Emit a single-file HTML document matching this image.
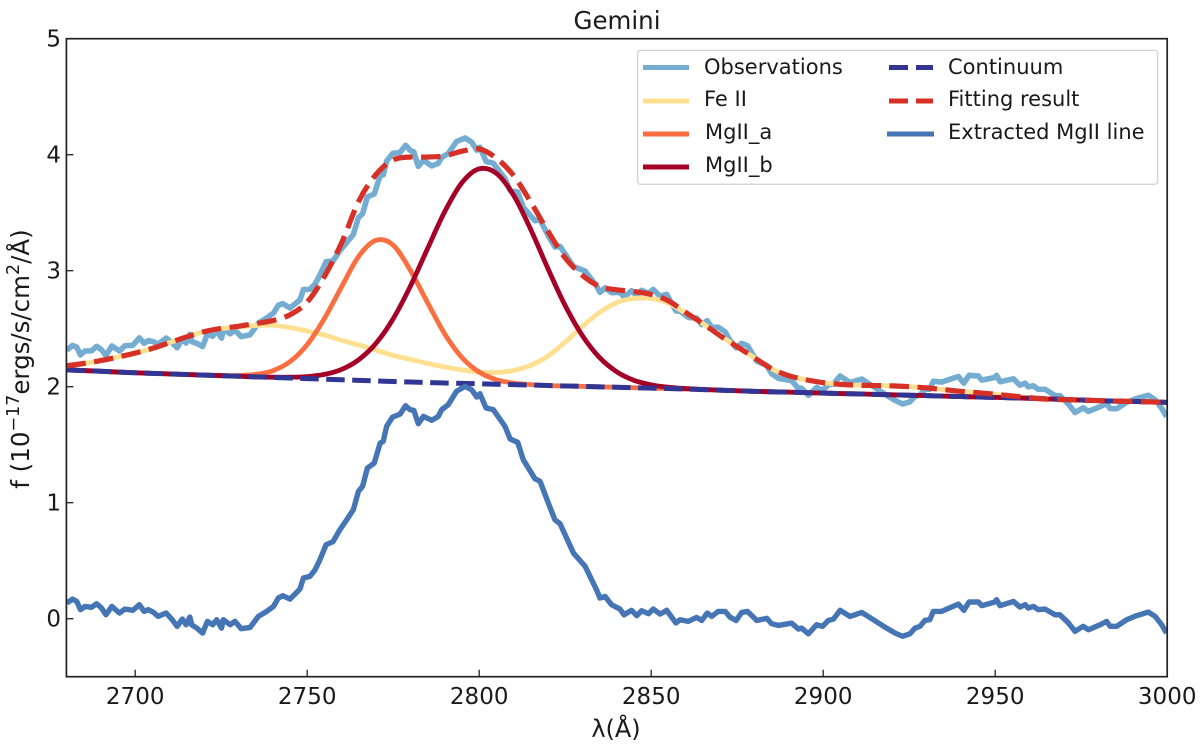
<!DOCTYPE html>
<html>
<head>
<meta charset="utf-8">
<title>Gemini</title>
<style>
html,body{margin:0;padding:0;background:#fff;}
svg{display:block;font-family:"DejaVu Sans","Liberation Sans",sans-serif;fill:#1a1a1a;}
</style>
</head>
<body>
<svg id="chart" width="1200" height="749" viewBox="0 0 1200 749" xmlns="http://www.w3.org/2000/svg">
  <defs><clipPath id="plot-clip"><rect x="66.4" y="38.7" width="1100.8" height="638"/></clipPath></defs>
  <rect x="0" y="0" width="1200" height="749" fill="#fff"/>
  <g id="series" clip-path="url(#plot-clip)"></g>
  <rect x="66.4" y="38.7" width="1100.8" height="638" fill="none" stroke="#222" stroke-width="1.7"/>
  <g id="ticks"></g>
  <text x="617" y="29" font-size="24.5" text-anchor="middle">Gemini</text>
  <text x="616" y="737" font-size="24" text-anchor="middle">λ(Å)</text>
  <text transform="translate(29,359) rotate(-90)" font-size="24.5" text-anchor="middle">f (10<tspan font-size="17.5" dy="-10">−17</tspan><tspan dy="10">ergs/s/cm</tspan><tspan font-size="17.5" dy="-10">2</tspan><tspan dy="10">/Å)</tspan></text>
  <g>
    <rect x="637.6" y="50.3" width="520" height="134" rx="3" fill="#fff" fill-opacity="0.85" stroke="#d4d4d4" stroke-width="1.4"/>
    <g font-size="21">
      <line x1="643" y1="67.5" x2="689" y2="67.5" stroke="#74add1" stroke-width="5"/>
      <text x="704" y="74">Observations</text>
      <line x1="643" y1="101" x2="689" y2="101" stroke="#fee090" stroke-width="5"/>
      <text x="704" y="106">Fe II</text>
      <line x1="643" y1="134" x2="689" y2="134" stroke="#fa6e40" stroke-width="5"/>
      <text x="705" y="139">MgII_a</text>
      <line x1="643" y1="167" x2="689" y2="167" stroke="#a50026" stroke-width="5"/>
      <text x="705" y="172">MgII_b</text>
      <line x1="889" y1="67.5" x2="933" y2="67.5" stroke="#313695" stroke-width="5" stroke-dasharray="19 8"/>
      <text x="948" y="74">Continuum</text>
      <line x1="889" y1="101" x2="933" y2="101" stroke="#d73027" stroke-width="5" stroke-dasharray="19 8"/>
      <text x="948" y="106">Fitting result</text>
      <line x1="887" y1="134" x2="934" y2="134" stroke="#4575b4" stroke-width="5"/>
      <text x="948" y="139">Extracted MgII line</text>
    </g>
  </g>
</svg>
<script>
// Tick labels
const xTicks = [2700, 2750, 2800, 2850, 2900, 2950, 3000];
const yTicks = [0, 1, 2, 3, 4, 5];

// Smooth model curves share a 5 Å wavelength grid
const modelWave = [2680,2685,2690,2695,2700,2705,2710,2715,2720,2725,2730,2735,2740,2745,2750,2755,2760,2765,2770,2775,2780,2785,2790,2795,2800,2805,2810,2815,2820,2825,2830,2835,2840,2845,2850,2855,2860,2865,2870,2875,2880,2885,2890,2895,2900,2905,2910,2915,2920,2925,2930,2935,2940,2945,2950,2955,2960,2965,2970,2975,2980,2985,2990,2995,3000];
const continuum = [2.145,2.139,2.133,2.126,2.120,2.115,2.110,2.105,2.100,2.095,2.090,2.085,2.080,2.075,2.070,2.065,2.060,2.055,2.050,2.045,2.040,2.036,2.032,2.029,2.025,2.021,2.018,2.014,2.010,2.006,2.003,1.999,1.995,1.991,1.988,1.984,1.980,1.975,1.970,1.965,1.960,1.956,1.953,1.949,1.945,1.941,1.938,1.934,1.930,1.926,1.923,1.919,1.915,1.911,1.908,1.904,1.900,1.895,1.890,1.885,1.880,1.876,1.873,1.869,1.865];
const feII = [2.180,2.200,2.225,2.256,2.290,2.330,2.380,2.430,2.474,2.500,2.515,2.527,2.530,2.510,2.480,2.445,2.400,2.360,2.315,2.270,2.235,2.200,2.170,2.145,2.125,2.122,2.140,2.185,2.265,2.385,2.520,2.640,2.725,2.760,2.760,2.720,2.635,2.545,2.440,2.345,2.250,2.155,2.095,2.060,2.035,2.020,2.013,2.010,2.007,2.000,1.990,1.975,1.960,1.948,1.935,1.920,1.905,1.893,1.888,1.885,1.880,1.876,1.873,1.869,1.865];
const mgIIa = [2.145,2.139,2.133,2.126,2.120,2.115,2.110,2.105,2.100,2.097,2.096,2.106,2.138,2.216,2.363,2.588,2.861,3.125,3.262,3.220,3.003,2.724,2.454,2.251,2.126,2.060,2.031,2.018,2.010,2.006,2.003,1.999,1.995,1.991,1.988,1.984,1.980,1.975,1.970,1.965,1.960,1.956,1.953,1.949,1.945,1.941,1.938,1.934,1.930,1.926,1.923,1.919,1.915,1.911,1.908,1.904,1.900,1.895,1.890,1.885,1.880,1.876,1.873,1.869,1.865];
const mgIIb = [2.145,2.139,2.133,2.126,2.120,2.115,2.110,2.105,2.100,2.095,2.090,2.085,2.082,2.082,2.087,2.106,2.149,2.233,2.374,2.586,2.867,3.191,3.510,3.759,3.878,3.839,3.650,3.354,3.017,2.699,2.440,2.251,2.128,2.055,2.016,1.995,1.984,1.977,1.970,1.965,1.960,1.956,1.953,1.949,1.945,1.941,1.938,1.934,1.930,1.926,1.923,1.919,1.915,1.911,1.908,1.904,1.900,1.895,1.890,1.885,1.880,1.876,1.873,1.869,1.865];
const fitResult = [2.180,2.200,2.225,2.256,2.290,2.330,2.380,2.430,2.474,2.502,2.521,2.545,2.570,2.620,2.730,2.950,3.240,3.600,3.830,3.955,3.980,3.980,3.990,4.030,4.050,3.970,3.820,3.590,3.340,3.110,2.960,2.865,2.835,2.820,2.795,2.740,2.640,2.545,2.440,2.345,2.250,2.155,2.095,2.060,2.035,2.020,2.013,2.010,2.007,2.000,1.990,1.975,1.960,1.948,1.935,1.920,1.905,1.893,1.888,1.885,1.880,1.876,1.873,1.869,1.865];

// Noisy spectra share an irregular wavelength grid
const specWave = [2680.1,2681.8,2683,2684.1,2685.4,2687.3,2688.8,2690.2,2691.5,2693.2,2695.4,2697,2699.3,2701.2,2702.6,2703.8,2705.3,2706.7,2709,2710.6,2712.2,2713.7,2714.8,2715.9,2716.4,2717.9,2719.6,2721,2722.5,2723.7,2725.1,2725.6,2727.6,2729,2730.8,2733.4,2735.8,2738.2,2740.2,2741.6,2742.9,2745,2747.9,2748.9,2750.8,2752.3,2753.7,2755.5,2757.5,2759.5,2761.5,2763.4,2764.9,2766.1,2767.5,2769.5,2771.2,2772.1,2773.1,2774.8,2777,2778.6,2779.9,2781,2782.3,2783.8,2786.2,2788.1,2789.1,2791,2793.4,2795.9,2797.8,2799.3,2800.2,2802,2804.1,2807.5,2809,2811.2,2812.8,2816.2,2817.7,2820.1,2822,2823.5,2827.4,2830.8,2834.1,2835.1,2836.6,2838.5,2840.9,2842.1,2844.3,2845.8,2847.2,2849.2,2850.6,2852.6,2854.5,2857.2,2858.4,2860.8,2863.2,2864.7,2866.3,2867.6,2869.5,2871.5,2872.9,2874.7,2876.3,2878,2880.7,2883.6,2885,2887,2890.8,2892.8,2893.7,2895.7,2898.1,2899.8,2901.5,2903,2904.9,2907.8,2911.2,2914.6,2918.4,2920.9,2923.1,2925.2,2926.7,2928.1,2929.6,2931,2932,2934.4,2939.3,2940.9,2942.4,2945.1,2946.1,2949.9,2950.4,2951.4,2955.3,2957.2,2958.7,2959.6,2961.1,2962.5,2964.5,2967.4,2968.8,2971.3,2973.2,2975.6,2977.1,2980.5,2982.4,2983.4,2985.3,2988.2,2991.1,2994.5,2996.5,2998.4,2999.8];
const extracted = [0.135,0.169,0.149,0.078,0.106,0.098,0.129,0.092,0.034,0.106,0.049,0.083,0.072,0.121,0.063,0.078,0.055,0.020,0.049,-0.003,-0.066,-0.003,-0.052,0.014,-0.052,-0.081,-0.124,-0.023,-0.052,-0.009,-0.081,-0.009,-0.052,-0.023,-0.086,-0.075,0.020,0.063,0.106,0.178,0.198,0.169,0.256,0.351,0.365,0.422,0.509,0.638,0.664,0.767,0.853,0.939,1.098,1.141,1.299,1.342,1.514,1.529,1.658,1.738,1.764,1.836,1.802,1.796,1.681,1.744,1.710,1.744,1.802,1.845,1.960,2.003,1.974,1.911,1.940,1.816,1.802,1.658,1.549,1.520,1.371,1.207,1.184,0.997,0.853,0.819,0.566,0.451,0.250,0.178,0.192,0.120,0.083,0.034,0.072,0.026,0.069,0.043,0.083,0.040,0.072,-0.037,-0.009,-0.023,0.011,-0.015,0.049,0.020,0.063,0.063,0.014,-0.015,0.054,0.063,-0.015,0.003,-0.043,-0.058,-0.038,-0.089,-0.081,-0.130,-0.052,-0.066,-0.015,-0.003,0.072,0.020,0.054,-0.009,-0.081,-0.124,-0.152,-0.130,-0.081,-0.066,-0.014,-0.009,0.063,0.063,0.126,0.072,0.144,0.144,0.112,0.144,0.164,0.112,0.149,0.100,0.121,0.092,0.106,0.078,0.083,0.034,0.034,-0.037,-0.109,-0.066,-0.095,-0.052,-0.023,-0.066,-0.066,-0.009,0.026,0.057,0.020,-0.052,-0.124];
const observations = [2.315,2.356,2.341,2.274,2.308,2.309,2.348,2.318,2.269,2.351,2.308,2.353,2.357,2.421,2.374,2.398,2.388,2.367,2.419,2.383,2.336,2.414,2.376,2.452,2.390,2.374,2.346,2.456,2.435,2.484,2.419,2.493,2.456,2.489,2.431,2.448,2.547,2.592,2.635,2.702,2.716,2.679,2.749,2.838,2.839,2.886,2.963,3.078,3.084,3.172,3.243,3.312,3.458,3.491,3.637,3.662,3.819,3.825,3.945,4.010,4.020,4.081,4.038,4.024,3.900,3.952,3.903,3.925,3.977,4.010,4.113,4.144,4.108,4.039,4.065,3.941,3.927,3.793,3.690,3.678,3.547,3.431,3.438,3.300,3.205,3.210,3.036,2.996,2.870,2.813,2.852,2.810,2.814,2.774,2.827,2.786,2.831,2.805,2.839,2.780,2.796,2.653,2.651,2.597,2.591,2.535,2.569,2.510,2.513,2.473,2.399,2.335,2.374,2.353,2.220,2.183,2.112,2.072,2.052,1.986,1.987,1.926,1.993,1.970,2.015,2.023,2.092,2.036,2.066,2.001,1.927,1.882,1.851,1.870,1.917,1.928,1.977,1.978,2.047,2.040,2.088,2.030,2.098,2.092,2.057,2.079,2.098,2.043,2.068,2.013,2.030,1.998,2.008,1.977,1.977,1.924,1.923,1.850,1.777,1.818,1.787,1.828,1.855,1.811,1.810,1.865,1.898,1.926,1.888,1.814,1.741];

const NS = 'http://www.w3.org/2000/svg';
const X0 = 66.4, X1 = 1167.2, XMIN = 2680, XMAX = 3000;
const Y0 = 676.7, Y1 = 38.7, YMIN = -0.5, YMAX = 5;
function xScale(v) { return X0 + (v - XMIN) / (XMAX - XMIN) * (X1 - X0); }
function yScale(v) { return Y0 + (v - YMIN) / (YMAX - YMIN) * (Y1 - Y0); }

function polyPath(xs, ys) {
  let d = '';
  for (let i = 0; i < xs.length; i++) {
    d += (i ? 'L' : 'M') + xScale(xs[i]).toFixed(2) + ' ' + yScale(ys[i]).toFixed(2);
  }
  return d;
}
function smoothPath(xs, ys) {
  const p = xs.map((x, i) => [xScale(x), yScale(ys[i])]);
  let d = 'M' + p[0][0].toFixed(2) + ' ' + p[0][1].toFixed(2);
  for (let i = 0; i < p.length - 1; i++) {
    const a = p[Math.max(i - 1, 0)], b = p[i], c = p[i + 1], e = p[Math.min(i + 2, p.length - 1)];
    const c1x = b[0] + (c[0] - a[0]) / 6, c1y = b[1] + (c[1] - a[1]) / 6;
    const c2x = c[0] - (e[0] - b[0]) / 6, c2y = c[1] - (e[1] - b[1]) / 6;
    d += 'C' + c1x.toFixed(2) + ' ' + c1y.toFixed(2) + ' ' + c2x.toFixed(2) + ' ' + c2y.toFixed(2) + ' ' + c[0].toFixed(2) + ' ' + c[1].toFixed(2);
  }
  return d;
}
const seriesGroup = document.getElementById('series');
function addPath(d, color, width, dash) {
  const el = document.createElementNS(NS, 'path');
  el.setAttribute('d', d);
  el.setAttribute('fill', 'none');
  el.setAttribute('stroke', color);
  el.setAttribute('stroke-width', width);
  el.setAttribute('stroke-linejoin', 'round');
  if (dash) el.setAttribute('stroke-dasharray', dash);
  seriesGroup.appendChild(el);
  return el;
}

const obsLine = addPath(polyPath(specWave, observations), '#74add1', 5.6);


const feLine = addPath(smoothPath(modelWave, feII), '#fee090', 4.8);


const mgALine = addPath(smoothPath(modelWave, mgIIa), '#fa6e40', 4.8);


const mgBLine = addPath(smoothPath(modelWave, mgIIb), '#a50026', 4.8);


const contLine = addPath(smoothPath(modelWave, continuum), '#313695', 5, '18.5 7.5');


const fitLine = addPath(smoothPath(modelWave, fitResult), '#d73027', 5.2, '19.5 8.5');


const extLine = addPath(polyPath(specWave, extracted), '#4575b4', 5.4);



const tickGroup = document.getElementById('ticks');
xTicks.forEach(function (t) {
  const x = xScale(t);
  const mark = document.createElementNS(NS, 'line');
  
  
  mark.setAttribute('x1', x); mark.setAttribute('x2', x);
  mark.setAttribute('y1', Y0); mark.setAttribute('y2', Y0 - 7);
  mark.setAttribute('stroke', '#222'); mark.setAttribute('stroke-width', 1.3);
  tickGroup.appendChild(mark);
  const label = document.createElementNS(NS, 'text');
  
  
  label.setAttribute('x', x); label.setAttribute('y', 704);
  label.setAttribute('font-size', '23');
  label.setAttribute('text-anchor', 'middle');
  label.textContent = t;
  tickGroup.appendChild(label);
});
yTicks.forEach(function (t) {
  const y = yScale(t);
  const mark = document.createElementNS(NS, 'line');
  
  
  mark.setAttribute('x1', X0); mark.setAttribute('x2', X0 + 7);
  mark.setAttribute('y1', y); mark.setAttribute('y2', y);
  mark.setAttribute('stroke', '#222'); mark.setAttribute('stroke-width', 1.3);
  tickGroup.appendChild(mark);
  const label = document.createElementNS(NS, 'text');
  
  
  label.setAttribute('x', 61); label.setAttribute('y', y + 8);
  label.setAttribute('font-size', '23');
  label.setAttribute('text-anchor', 'end');
  label.textContent = t;
  tickGroup.appendChild(label);
});
</script>
</body>
</html>
